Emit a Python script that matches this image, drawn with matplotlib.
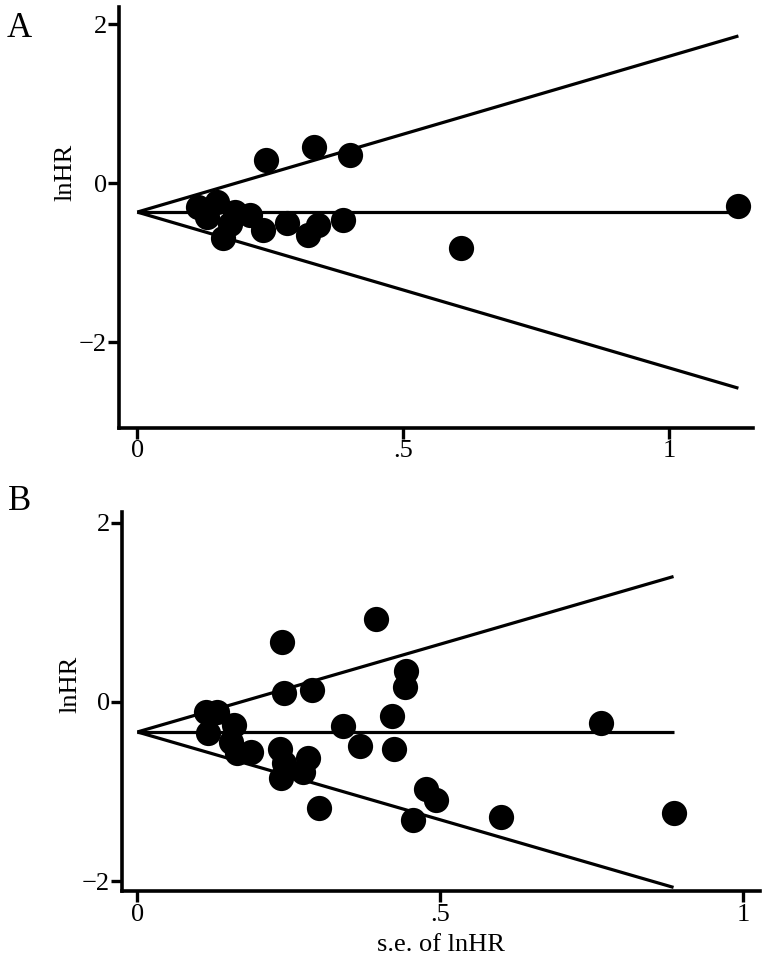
import numpy as np
import matplotlib.pyplot as plt

plt.rcParams['font.family'] = ['Liberation Serif', 'DejaVu Serif']

# panel A: standard error and lnHR per study
se_a = [0.115, 0.150, 0.132, 0.184, 0.175, 0.212, 0.162, 0.237, 0.282,
        0.320, 0.340, 0.387, 0.242, 0.333, 0.400, 0.609, 1.130]
lnhr_a = [-0.30, -0.24, -0.43, -0.36, -0.52, -0.40, -0.69, -0.59, -0.50,
          -0.65, -0.53, -0.47, 0.29, 0.45, 0.35, -0.82, -0.29]
pooled_a = -0.365

# panel B
se_b = [0.238, 0.394, 0.242, 0.288, 0.113, 0.132, 0.116, 0.159, 0.154,
        0.165, 0.187, 0.235, 0.242, 0.237, 0.281, 0.273, 0.300, 0.339,
        0.367, 0.421, 0.424, 0.444, 0.441, 0.477, 0.493, 0.455, 0.600,
        0.765, 0.885]
lnhr_b = [0.67, 0.92, 0.10, 0.13, -0.11, -0.11, -0.35, -0.26, -0.45,
          -0.57, -0.56, -0.53, -0.68, -0.85, -0.63, -0.78, -1.18, -0.27,
          -0.49, -0.16, -0.53, 0.34, 0.17, -0.97, -1.09, -1.32, -1.28,
          -0.24, -1.24]
pooled_b = -0.335

ytick_vals = [-2, 0, 2]
ytick_text = ['\u22122', '0', '2']
xtick_vals = [0, 0.5, 1]
xtick_text = ['0', '.5', '1']


def funnel(ax, se, lnhr, pooled):
    smax = max(se)
    s = np.array([0, smax])
    ax.plot(s, pooled + 1.96 * s, color='black', lw=2.3, solid_capstyle='butt')
    ax.plot(s, pooled - 1.96 * s, color='black', lw=2.3, solid_capstyle='butt')
    ax.plot(s, [pooled, pooled], color='black', lw=2.3, solid_capstyle='butt')
    ax.scatter(se, lnhr, s=330, color='black', zorder=3, linewidths=0)
    for side in ['top', 'right']:
        ax.spines[side].set_visible(False)
    for side in ['left', 'bottom']:
        ax.spines[side].set_linewidth(2.6)
    ax.tick_params(length=8, width=2.4, pad=1, labelsize=19)
    ax.set_yticks(ytick_vals)
    ax.set_yticklabels(ytick_text)
    ax.set_xticks(xtick_vals)
    ax.set_xticklabels(xtick_text)


fig = plt.figure(figsize=(7.64, 9.72), dpi=100)

axA = fig.add_axes([0.156, 0.5597, 0.830, 0.4331])
funnel(axA, se_a, lnhr_a, pooled_a)
axA.set_xlim(-0.034, 1.158)
axA.set_ylim(-3.08, 2.214)
axA.text(-0.084, 0.606, 'lnHR', rotation=90, ha='center', va='center',
         fontsize=19, transform=axA.transAxes)

axB = fig.add_axes([0.160, 0.0833, 0.835, 0.3900])
funnel(axB, se_b, lnhr_b, pooled_b)
axB.set_xlim(-0.025, 1.028)
axB.set_ylim(-2.11, 2.12)
axB.text(-0.0815, 0.544, 'lnHR', rotation=90, ha='center', va='center',
         fontsize=19, transform=axB.transAxes)
axB.set_xlabel('s.e. of lnHR', fontsize=19, labelpad=6)

fig.text(7 / 764, 1 - 37 / 972, 'A', fontsize=25, ha='left', va='baseline')
fig.text(8 / 764, 1 - 510 / 972, 'B', fontsize=25, ha='left', va='baseline')

fig.savefig('out.png', dpi=100)
